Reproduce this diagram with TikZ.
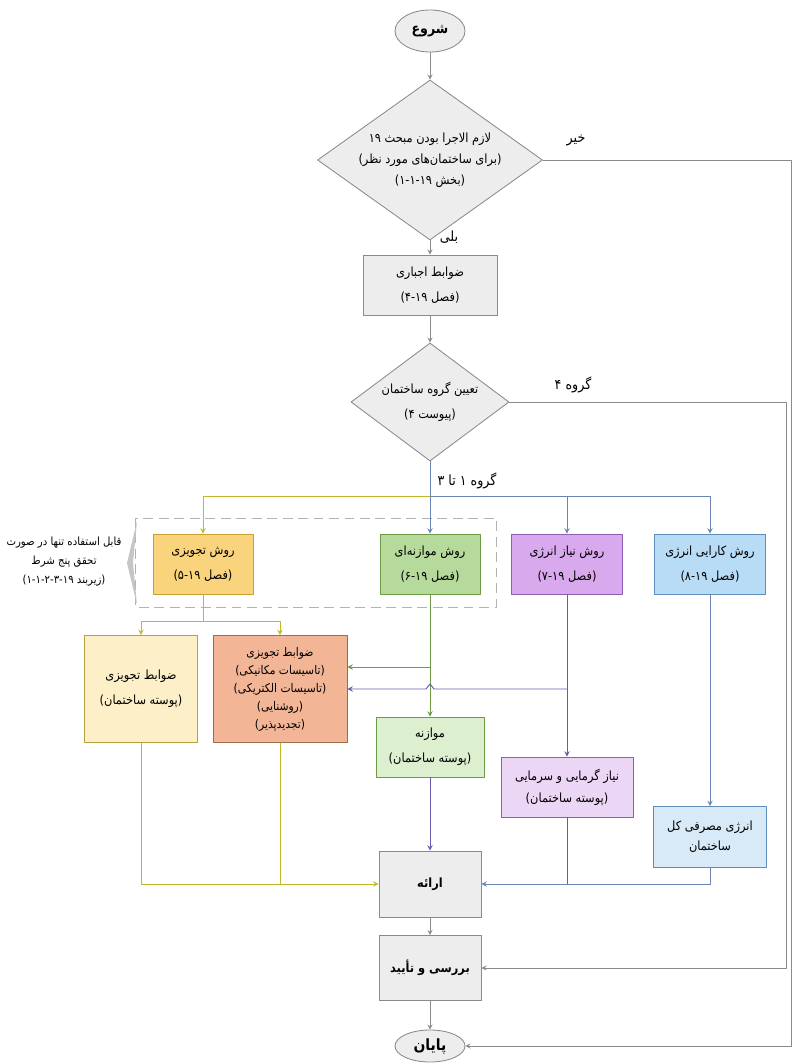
\documentclass[tikz,border=0pt]{standalone}
\usepackage{fontspec}
\usetikzlibrary{shapes.geometric,positioning}
\TeXXeTstate=1
\newfontfamily\arabicfont[Script=Arabic,FakeStretch=0.9]{DejaVu Sans}
\newcommand\rl[1]{\beginR#1\endR}
\newcommand\lr[1]{\beginL#1\endL{}}
\definecolor{boxgray}{HTML}{EDEDED}
\definecolor{linegray}{HTML}{8A8A8A}
\definecolor{yelfill}{HTML}{F9D47C}
\definecolor{yeldraw}{HTML}{C9A030}
\definecolor{yelline}{HTML}{C2B82A}
\definecolor{palefill}{HTML}{FDF0C8}
\definecolor{paledraw}{HTML}{B5A23C}
\definecolor{salfill}{HTML}{F2B596}
\definecolor{saldraw}{HTML}{9C6B50}
\definecolor{grnfill}{HTML}{B6DA9C}
\definecolor{grndraw}{HTML}{6F9A45}
\definecolor{grnlight}{HTML}{DCEFCF}
\definecolor{purfill}{HTML}{D9A9EE}
\definecolor{purdraw}{HTML}{8E5FB0}
\definecolor{purlight}{HTML}{ECD6F5}
\definecolor{purline}{HTML}{6A5AAE}
\definecolor{blufill}{HTML}{B9DCF6}
\definecolor{bludraw}{HTML}{5F8EBC}
\definecolor{blulight}{HTML}{D8EAF8}
\definecolor{bluline}{HTML}{6C84B4}
\begin{document}
\begin{tikzpicture}[x=0.025cm, y=-0.025cm, line join=round, >=stealth,
    font=\arabicfont\fontsize{9}{18}\selectfont,
    every node/.style={align=center},
    flowbox/.style={rectangle, draw=linegray, fill=boxgray, line width=0.6pt, inner sep=2pt},
    decide/.style={diamond, draw=linegray, fill=boxgray, line width=0.6pt, inner sep=0pt},
    term/.style={ellipse, draw=linegray, fill=boxgray, line width=0.6pt, inner sep=0pt,
        font=\arabicfont\bfseries\fontsize{10}{12}\selectfont},
    method/.style={rectangle, line width=0.6pt, minimum height=1.5cm, inner sep=2pt},
    boldtxt/.style={font=\arabicfont\bfseries\fontsize{9}{12}\selectfont},
    lbl/.style={font=\arabicfont\fontsize{10}{12}\selectfont},
    grayline/.style={draw=linegray, line width=0.6pt},
    yline/.style={draw=yelline, line width=0.7pt},
    gline/.style={draw=grndraw, line width=0.7pt},
    pline/.style={draw=purline, line width=0.7pt},
    bline/.style={draw=bluline, line width=0.7pt}]
	\useasboundingbox (0,0) rectangle (792,1064);
	% top of the chart
	\node[term, minimum width=1.75cm, minimum height=1.05cm] (start) at (430,31) {\rl{شروع}};
	\node[decide, shape aspect=1.45, minimum width=5.625cm, minimum height=4cm,
		font=\arabicfont\fontsize{9}{15}\selectfont] (law) at (430,160)
		{\rl{لازم الاجرا بودن مبحث ۱۹}\\ \rl{(برای ساختمان‌های مورد نظر)}\\ \rl{(بخش \lr{۱-۱-۱۹})}};
	\node[flowbox, minimum width=3.35cm, minimum height=1.5cm] (must) at (430,285)
		{\rl{ضوابط اجباری}\\ \rl{(فصل \lr{۴-۱۹})}};
	\node[decide, shape aspect=1.34, minimum width=3.95cm, minimum height=2.95cm] (group) at (430,402)
		{\rl{تعیین گروه ساختمان}\\ \rl{(پیوست ۴)}};
	% the four methods
	\draw[dashed, draw=gray!60, line width=0.6pt, dash pattern=on 7pt off 4pt] (135,518) rectangle (496,607);
	\node[method, fill=yelfill, draw=yeldraw, minimum width=2.5cm] (presc) at (203,564)
		{\rl{روش تجویزی}\\ \rl{(فصل \lr{۵-۱۹})}};
	\node[method, fill=grnfill, draw=grndraw, minimum width=2.5cm] (trade) at (430,564)
		{\rl{روش موازنه‌ای}\\ \rl{(فصل \lr{۶-۱۹})}};
	\node[method, fill=purfill, draw=purdraw, minimum width=2.775cm] (need) at (567,564)
		{\rl{روش نیاز انرژی}\\ \rl{(فصل \lr{۷-۱۹})}};
	\node[method, fill=blufill, draw=bludraw, minimum width=2.775cm] (perf) at (710,564)
		{\rl{روش کارایی انرژی}\\ \rl{(فصل \lr{۸-۱۹})}};
	\fill[gray!45] (137,521) -- (127,563) -- (137,605) -- (133,563) -- cycle;
	\node[font=\arabicfont\fontsize{8}{13.5}\selectfont] (cond) at (64,562)
		{\rl{قابل استفاده تنها در صورت}\\ \rl{تحقق پنج شرط}\\ \rl{(زیربند \lr{۱-۱-۲-۳-۱۹})}};
	% second row
	\node[method, fill=palefill, draw=paledraw, minimum width=2.825cm, minimum height=2.675cm] (shell) at (141,689)
		{\rl{ضوابط تجویزی}\\ \rl{(پوسته ساختمان)}};
	\node[method, fill=salfill, draw=saldraw, minimum width=3.35cm, minimum height=2.675cm,
		font=\arabicfont\fontsize{8.5}{12.8}\selectfont] (systems) at (280,689)
		{\rl{ضوابط تجویزی}\\ \rl{(تاسیسات مکانیکی)}\\ \rl{(تاسیسات الکتریکی)}\\ \rl{(روشنایی)}\\ \rl{(تجدیدپذیر)}};
	\node[method, fill=grnlight, draw=grndraw, minimum width=2.7cm] (balance) at (430,747)
		{\rl{موازنه}\\ \rl{(پوسته ساختمان)}};
	\node[method, fill=purlight, draw=purdraw, minimum width=3.3cm,
		font=\arabicfont\fontsize{9}{15.5}\selectfont] (heat) at (567,787)
		{\rl{نیاز گرمایی و سرمایی}\\ \rl{(پوسته ساختمان)}};
	\node[method, fill=blulight, draw=bludraw, minimum width=2.825cm, minimum height=1.525cm,
		font=\arabicfont\fontsize{9}{14.5}\selectfont] (total) at (710,837)
		{\rl{انرژی مصرفی کل}\\ \rl{ساختمان}};
	% bottom
	\node[flowbox, boldtxt, minimum width=2.55cm, minimum height=1.65cm] (present) at (430,884) {\rl{ارائه}};
	\node[flowbox, boldtxt, minimum width=2.55cm, minimum height=1.625cm] (check) at (430,968) {\rl{بررسی و تأیید}};
	\node[term, minimum width=1.75cm, minimum height=0.8cm, font=\arabicfont\bfseries\fontsize{11}{13}\selectfont] (finish) at (430,1046) {\rl{پایان}};
	% labels
	\node[lbl] (nolab) at (576,140) {\rl{خیر}};
	\node[lbl] (yeslab) at (449,237) {\rl{بلی}};
	\node[lbl] (g4lab) at (573,385) {\rl{گروه ۴}};
	\node[lbl] (g13lab) at (467,481) {\rl{گروه ۱ تا ۳}};
	% connectors
	\coordinate (nocorner) at (791,160);
	\coordinate (g4corner) at (786,402);
	\coordinate (split) at (430,496);
	\coordinate (yfork) at (203,621);
	\coordinate (gtap) at (430,667);
	\coordinate (ptap) at (567,689);
	\draw[grayline,->] (start) -- (law);
	\draw[grayline,->] (law) -- (must);
	\draw[grayline,->] (must) -- (group);
	\draw[grayline,->] (law.east) -- (nocorner) |- (finish.east);
	\draw[grayline,->] (group.east) -- (g4corner) |- (check.east);
	\draw[bline] (group.south) -- (split);
	\draw[yline,->] (split) -| (presc.north);
	\draw[bline,->] (split) -- (trade.north);
	\draw[bline,->] (split) -| (need.north);
	\draw[bline,->] (split) -| (perf.north);
	\draw[yline] (presc.south) -- (yfork);
	\draw[yline,->] (yfork) -| (shell.north);
	\draw[yline,->] (yfork) -| (systems.north);
	\draw[gline,->] (trade) -- (balance);
	\draw[gline,->] (gtap) -- (gtap -| systems.east);
	\draw[pline,->] (need) -- (heat);
	\draw[pline,->] (ptap) -- (434,689) -- (430,684) -- (426,689) -- (ptap -| systems.east);
	\draw[bline,->] (perf) -- (total);
	\draw[pline,->] (balance) -- (present);
	\draw[yline,->] (shell.south) |- (present.west);
	\draw[yline] (systems.south) -- (systems.south |- present.west);
	\draw[bline,->] (total.south) |- (present.east);
	\draw[pline] (heat.south) -- (heat.south |- present.east);
	\draw[grayline,->] (present) -- (check);
	\draw[grayline,->] (check) -- (finish);
\end{tikzpicture}
\end{document}
